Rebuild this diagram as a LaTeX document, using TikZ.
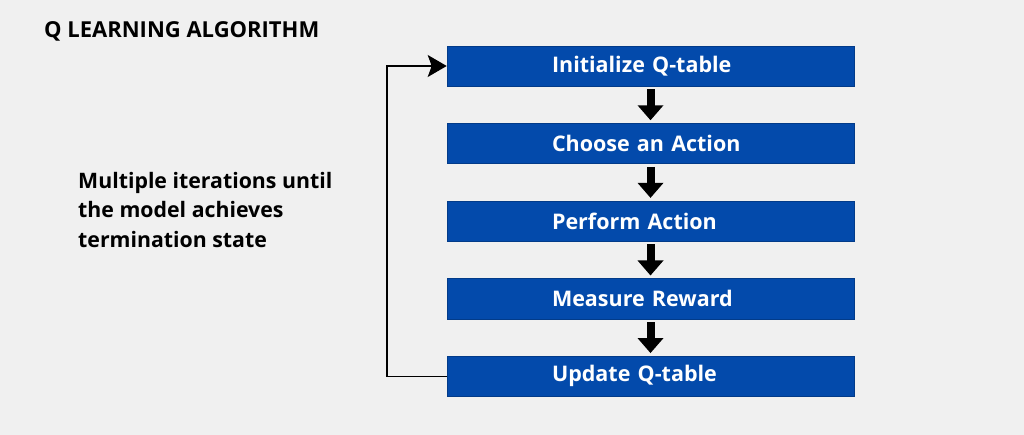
\documentclass[tikz,border=0pt]{standalone}
\usepackage{fontspec}
\setmainfont{Open Sans}
\usetikzlibrary{positioning,arrows.meta}
\definecolor{pagegray}{HTML}{F0F0F0}
\definecolor{stepblue}{HTML}{034AAB}

\begin{document}
\begin{tikzpicture}[
  x=1pt, y=-1pt,
  node distance=37pt,
  stepbox/.style = {rectangle, fill=stepblue, draw=stepblue!80!black, line width=0.6pt,
                    text=white, font=\fontsize{21.5}{25}\selectfont\bfseries,
                    text width=197pt, align=left, inner xsep=105pt, inner ysep=0pt,
                    minimum width=407pt, minimum height=40pt},
  flow/.style = {line width=8pt, -{Triangle[width=25pt,length=15pt]},
                 shorten <=3pt, shorten >=3pt},
  loop/.style = {line width=1.3pt, -{Stealth[width=22pt,length=19pt,inset=4pt]}}
]
  \fill[pagegray] (0,0) rectangle (1024,435);
  \useasboundingbox (0,0) rectangle (1024,435);

  \node[anchor=west, font=\fontsize{22}{26}\selectfont\bfseries, inner sep=0pt]
    (title) at (44,31) {Q LEARNING ALGORITHM};
  \node[anchor=north west, align=left, inner sep=0pt,
        font=\fontsize{21.3}{29.5}\selectfont\bfseries]
    (note) at (78,172) {Multiple iterations until\\the model achieves\\termination state};

  \node[stepbox] (init) at (650.5,66) {Initialize Q-table};
  \node[stepbox, below=of init] (choose) {Choose an Action};
  \node[stepbox, below=of choose] (perform) {Perform Action};
  \node[stepbox, below=of perform] (measure) {Measure Reward};
  \node[stepbox, below=of measure] (update) {Update Q-table};

  \foreach \a/\b in {init/choose, choose/perform, perform/measure, measure/update}
    \draw[flow] (\a) -- (\b);

  % back to the start
  \coordinate (bend) at (387,0);
  \draw[loop] (update.west) -| (bend |- init.west) -- (init.west);
\end{tikzpicture}
\end{document}
